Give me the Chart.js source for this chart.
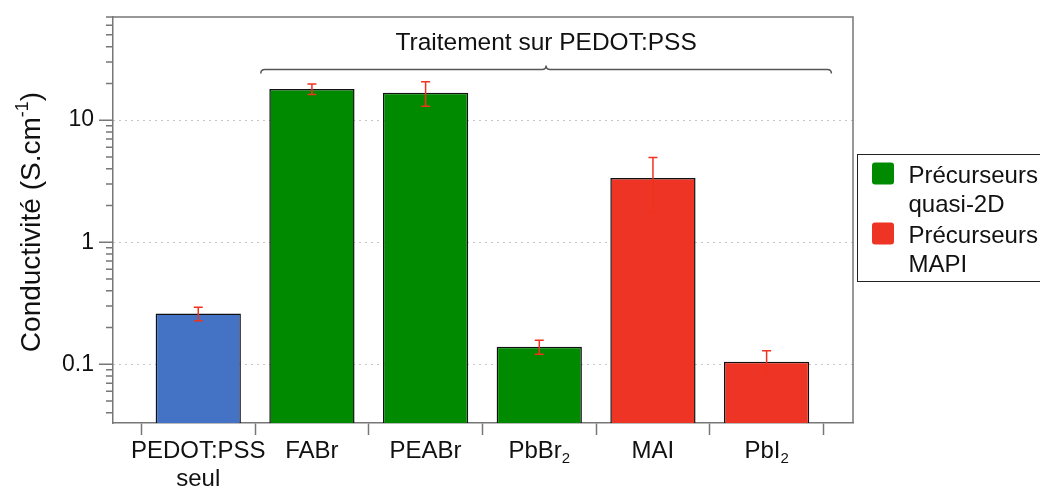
<!DOCTYPE html>
<html>
<head>
<meta charset="utf-8">
<script src="https://cdn.jsdelivr.net/npm/chart.js@4"></script>
<style>
  html, body { margin: 0; padding: 0; background: #fff; }
  #wrap { position: relative; width: 1040px; height: 488px; }
</style>
</head>
<body>
<div id="wrap"><canvas id="chart"></canvas></div>
<script>
// _{..} = subscript, ^{..} = superscript, \n = new line
const categories = ['PEDOT:PSS\nseul', 'FABr', 'PEABr', 'PbBr_{2}', 'MAI', 'PbI_{2}'];
const conductivity = [0.26, 18, 16.8, 0.139, 3.35, 0.105];
const conductivityErr = [0.033, 1.8, 3.8, 0.018, 1.6, 0.024];
const precursorGroup = ['ref', 'q2d', 'q2d', 'q2d', 'mapi', 'mapi'];

const legendGroups = ['q2d', 'mapi'];
const legendLabels = ['Précurseurs\nquasi-2D', 'Précurseurs\nMAPI'];

const yMajorTicks = [0.1, 1, 10];
const yMinorTicks = [0.04, 0.05, 0.06, 0.07, 0.08, 0.09,
  0.2, 0.3, 0.4, 0.5, 0.6, 0.7, 0.8, 0.9,
  2, 3, 4, 5, 6, 7, 8, 9,
  20, 30, 40, 50, 60, 70];
const yTitle = 'Conductivité (S.cm^{-1})';
const bracketLabel = 'Traitement sur PEDOT:PSS';
const bracketSpan = [0.55, 5.57];

const groupColors = { ref: '#4472c4', q2d: '#008a00', mapi: '#ee3424' };
const FONT = '"Liberation Sans", Arial, Helvetica, sans-serif';
const AXIS_GREY = '#777';

function parseRich(str) {
  const parts = [];
  const re = /([_^])\{([^}]*)\}|([^_^]+)/g;
  let m;
  while ((m = re.exec(str))) {
    if (m[3]) parts.push({ text: m[3], shift: 0 });
    else parts.push({ text: m[2], shift: m[1] === '_' ? 1 : -1 });
  }
  return parts;
}

function drawRich(ctx, str, x, y, size, align) {
  const parts = parseRich(str);
  const small = Math.round(size * 0.64);
  const widths = parts.map((p) => {
    ctx.font = `${p.shift ? small : size}px ${FONT}`;
    return ctx.measureText(p.text).width;
  });
  const total = widths.reduce((a, b) => a + b, 0);
  let cx = align === 'center' ? x - total / 2 : align === 'right' ? x - total : x;
  ctx.textAlign = 'left';
  ctx.textBaseline = 'alphabetic';
  parts.forEach((p, i) => {
    ctx.font = `${p.shift ? small : size}px ${FONT}`;
    const dy = p.shift === 1 ? size * 0.22 : p.shift === -1 ? -size * 0.42 : 0;
    ctx.fillText(p.text, cx, y + dy);
    cx += widths[i];
  });
}

const errorBars = {
  id: 'errorBars',
  afterDatasetsDraw(chart) {
    const { ctx, scales: { x, y } } = chart;
    ctx.save();
    ctx.strokeStyle = '#f0321e';
    ctx.lineWidth = 1.5;
    conductivity.forEach((v, i) => {
      const px = x.getPixelForValue(i);
      const top = y.getPixelForValue(v + conductivityErr[i]);
      const bot = y.getPixelForValue(v - conductivityErr[i]);
      ctx.beginPath();
      ctx.moveTo(px, top); ctx.lineTo(px, bot);
      ctx.moveTo(px - 4.5, top); ctx.lineTo(px + 4.5, top);
      ctx.moveTo(px - 4.5, bot); ctx.lineTo(px + 4.5, bot);
      ctx.stroke();
    });
    ctx.restore();
  }
};

const decorations = {
  id: 'decorations',
  afterDraw(chart) {
    const { ctx, chartArea: area, scales: { x, y } } = chart;
    ctx.save();

    // box around the plot
    ctx.strokeStyle = AXIS_GREY;
    ctx.lineWidth = 1.5;
    ctx.beginPath();
    ctx.moveTo(area.left, area.top);
    ctx.lineTo(area.right, area.top);
    ctx.lineTo(area.right, area.bottom);
    ctx.stroke();

    // y tick marks, long on decades
    ctx.beginPath();
    y.ticks.forEach((t) => {
      const py = y.getPixelForValue(t.value);
      const len = yMajorTicks.includes(t.value) ? 14 : 7;
      ctx.moveTo(area.left - len, py);
      ctx.lineTo(area.left, py);
    });
    ctx.stroke();

    // category labels
    ctx.fillStyle = '#111';
    categories.forEach((label, i) => {
      const px = x.getPixelForValue(i);
      label.split('\n').forEach((line, k) => {
        drawRich(ctx, line, px, area.bottom + 35 + k * 28, 24, 'center');
      });
    });

    // axis title
    ctx.save();
    ctx.translate(40, (area.top + area.bottom) / 2 + 2);
    ctx.rotate(-Math.PI / 2);
    drawRich(ctx, yTitle, 0, 0, 28, 'center');
    ctx.restore();

    // bracket over the treated samples
    const bl = x.getPixelForValue(bracketSpan[0]);
    const br = x.getPixelForValue(bracketSpan[1]);
    const bm = (bl + br) / 2;
    const by = area.top + 52.5;
    ctx.strokeStyle = '#555';
    ctx.lineWidth = 1.5;
    ctx.beginPath();
    ctx.moveTo(bl, by + 4);
    ctx.quadraticCurveTo(bl, by, bl + 4, by);
    ctx.lineTo(bm - 4, by);
    ctx.quadraticCurveTo(bm, by, bm, by - 4);
    ctx.quadraticCurveTo(bm, by, bm + 4, by);
    ctx.lineTo(br - 4, by);
    ctx.quadraticCurveTo(br, by, br, by + 4);
    ctx.stroke();
    ctx.fillStyle = '#111';
    drawRich(ctx, bracketLabel, bm, area.top + 32.5, 24.5, 'center');

    // legend
    const lx = area.right + 4.5;
    const ly = 154.5;
    ctx.strokeStyle = '#222';
    ctx.lineWidth = 1;
    ctx.strokeRect(lx, ly, 220, 127);
    legendGroups.forEach((g, i) => {
      const top = ly + 8 + i * 60;
      ctx.fillStyle = groupColors[g];
      ctx.beginPath();
      ctx.roundRect(lx + 14.5, top, 22, 22, 3);
      ctx.fill();
      ctx.fillStyle = '#111';
      legendLabels[i].split('\n').forEach((line, k) => {
        drawRich(ctx, line, lx + 51, top + 20 + k * 29, 24, 'left');
      });
    });

    ctx.restore();
  }
};

const boundaries = categories.map((_, i) => i - 0.5).concat([categories.length - 0.5]);
const yTicks = yMinorTicks.concat(yMajorTicks).sort((a, b) => a - b);

new Chart(document.getElementById('chart'), {
  type: 'bar',
  data: {
    datasets: [{
      data: conductivity.map((v, i) => ({ x: i, y: v })),
      backgroundColor: precursorGroup.map((g) => groupColors[g]),
      borderColor: '#111',
      borderWidth: 1.5,
      barPercentage: 0.75,
      categoryPercentage: 1,
    }],
  },
  options: {
    responsive: true,
    maintainAspectRatio: false,
    animation: false,
    layout: { padding: { top: 17, right: 187, left: 0, bottom: 0 } },
    plugins: {
      legend: { display: false },
      tooltip: { enabled: false },
    },
    scales: {
      x: {
        type: 'linear',
        offset: false,
        min: -0.75,
        max: 5.76,
        afterBuildTicks: (scale) => { scale.ticks = boundaries.map((v) => ({ value: v })); },
        afterFit: (scale) => {
          scale.height = 65;
          scale.paddingLeft = 0;
          scale.paddingRight = 0;
        },
        ticks: { display: false, autoSkip: false },
        grid: {
          offset: false,
          drawOnChartArea: false,
          drawTicks: true,
          tickLength: 12,
          tickColor: AXIS_GREY,
          tickWidth: 1.5,
        },
        border: { display: true, color: AXIS_GREY, width: 1.5 },
      },
      y: {
        type: 'logarithmic',
        min: 0.033,
        max: 70,
        afterBuildTicks: (scale) => { scale.ticks = yTicks.map((v) => ({ value: v })); },
        afterFit: (scale) => {
          scale.width = 113;
          scale.paddingTop = 0;
          scale.paddingBottom = 0;
        },
        ticks: {
          autoSkip: false,
          padding: 19,
          color: '#111',
          font: { family: FONT, size: 23 },
          callback: (v) => (yMajorTicks.includes(v) ? String(v) : ''),
        },
        grid: {
          drawTicks: false,
          color: (c) => (c.tick && yMajorTicks.includes(c.tick.value) ? '#8a8a8a' : 'rgba(0,0,0,0)'),
          lineWidth: 1,
        },
        border: { display: true, color: AXIS_GREY, width: 1.5, dash: [1, 5] },
      },
    },
  },
  plugins: [errorBars, decorations],
});
</script>
</body>
</html>
